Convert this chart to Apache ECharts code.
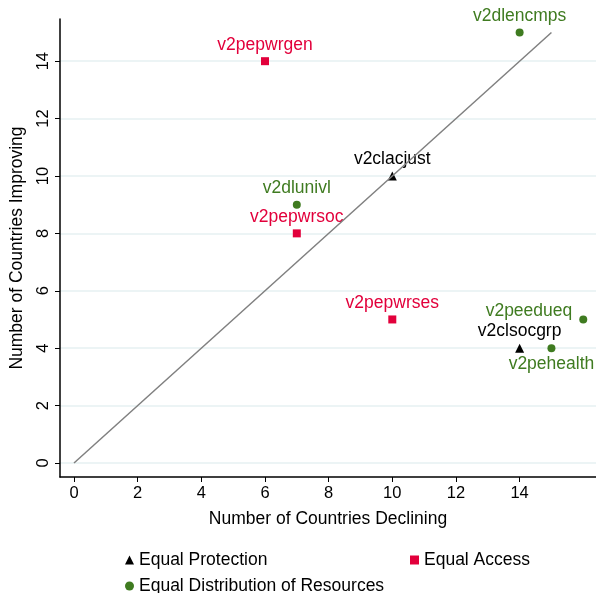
<!DOCTYPE html>
<html>
<head>
<meta charset="utf-8">
<script src="https://cdn.jsdelivr.net/npm/echarts@6/dist/echarts.min.js"></script>
<style>
  html, body { margin: 0; padding: 0; background: #fff; }
  #chart { width: 596px; height: 593px; }
</style>
</head>
<body>
<div id="chart"></div>
<script>
// Equal Protection (triangles)
const protNames = ['v2clacjust', 'v2clsocgrp']
const protX = [10, 14]
const protY = [10, 4]

// Equal Access (squares)
const accessNames = ['v2pepwrgen', 'v2pepwrsoc', 'v2pepwrses']
const accessX = [6, 7, 10]
const accessY = [14, 8, 5]

// Equal Distribution of Resources (circles)
const distNames = ['v2dlencmps', 'v2dlunivl', 'v2peedueq', 'v2pehealth']
const distX = [14, 7, 16, 15]
const distY = [15, 9, 5, 4]

// 45 degree reference line
const refLine = [[0, 0], [15, 15]]

const xTicks = [0, 2, 4, 6, 8, 10, 12, 14]
const yTicks = [0, 2, 4, 6, 8, 10, 12, 14]

const RED = '#e2003b'
const GREEN = '#3f7b20'
const FONT = 'Liberation Sans'
const FS = 17.5

const labelPos = {
  v2peedueq: { position: 'left', distance: 7, offset: [0, -8] },
  v2pehealth: { position: 'bottom', distance: 3 }
}

function pts(names, xs, ys) {
  return names.map((n, i) => {
    const p = { name: n, value: [xs[i], ys[i]] }
    if (labelPos[n]) p.label = labelPos[n]
    return p
  })
}

function label(color) {
  return {
    show: true,
    position: 'top',
    distance: 3,
    formatter: '{b}',
    color: color,
    fontSize: FS,
    fontFamily: FONT
  }
}

const chart = echarts.init(document.getElementById('chart'))

const legendText = { color: '#000', fontSize: FS, fontFamily: FONT }

chart.setOption({
  animation: false,
  textStyle: { fontFamily: FONT },
  grid: { left: 60, right: 0, top: 19, bottom: 116 },
  xAxis: {
    type: 'value',
    min: -0.44,
    max: 16.4,
    name: 'Number of Countries Declining',
    nameLocation: 'middle',
    nameGap: 33,
    nameTextStyle: { color: '#000', fontSize: FS, fontFamily: FONT },
    axisLine: { show: true, onZero: false, lineStyle: { color: '#000', width: 1.5 } },
    axisTick: { show: true, length: 5, lineStyle: { color: '#000' }, customValues: xTicks },
    axisLabel: { color: '#000', fontSize: 16.5, margin: 8, customValues: xTicks, formatter: v => v },
    splitLine: { show: false }
  },
  yAxis: {
    type: 'value',
    min: -0.49,
    max: 15.47,
    name: 'Number of Countries Improving',
    nameLocation: 'middle',
    nameRotate: 90,
    nameGap: 34,
    nameTextStyle: { color: '#000', fontSize: FS, fontFamily: FONT },
    axisLine: { show: true, onZero: false, lineStyle: { color: '#000', width: 1.5 } },
    axisTick: { show: true, length: 5, lineStyle: { color: '#000' }, customValues: yTicks },
    axisLabel: { color: '#000', fontSize: 16.5, rotate: 90, margin: 8, customValues: yTicks, formatter: v => v },
    splitLine: { show: false }
  },
  legend: [
    {
      left: 120, top: 546,
      itemWidth: 9, itemHeight: 9, itemGap: 6,
      textStyle: legendText,
      data: [{ name: 'Equal Protection', icon: 'triangle' }]
    },
    {
      left: 405, top: 546,
      itemWidth: 9, itemHeight: 9,
      textStyle: legendText,
      data: [{ name: 'Equal Access', icon: 'rect' }]
    },
    {
      left: 120, top: 572,
      itemWidth: 9, itemHeight: 9,
      textStyle: legendText,
      data: [{ name: 'Equal Distribution of Resources', icon: 'circle' }]
    }
  ],
  series: [
    // horizontal grid lines at tick values
    {
      type: 'line',
      silent: true,
      z: 0,
      data: [],
      markLine: {
        silent: true,
        z: 0,
        symbol: 'none',
        label: { show: false },
        lineStyle: { color: '#e6f0f2', width: 1.5, type: 'solid' },
        data: yTicks.map(v => ({ yAxis: v }))
      }
    },
    {
      type: 'line',
      silent: true,
      z: 4,
      data: refLine,
      symbol: 'none',
      lineStyle: { color: '#808080', width: 1.5 }
    },
    {
      name: 'Equal Protection',
      type: 'scatter',
      symbol: 'triangle',
      symbolSize: 9,
      z: 3,
      itemStyle: { color: '#000', opacity: 1 },
      label: label('#000'),
      data: pts(protNames, protX, protY)
    },
    {
      name: 'Equal Access',
      type: 'scatter',
      symbol: 'rect',
      symbolSize: 8,
      z: 3,
      itemStyle: { color: RED, opacity: 1 },
      label: label(RED),
      data: pts(accessNames, accessX, accessY)
    },
    {
      name: 'Equal Distribution of Resources',
      type: 'scatter',
      symbol: 'circle',
      symbolSize: 8,
      z: 3,
      itemStyle: { color: GREEN, opacity: 1 },
      label: label(GREEN),
      data: pts(distNames, distX, distY)
    }
  ]
})
</script>
</body>
</html>
